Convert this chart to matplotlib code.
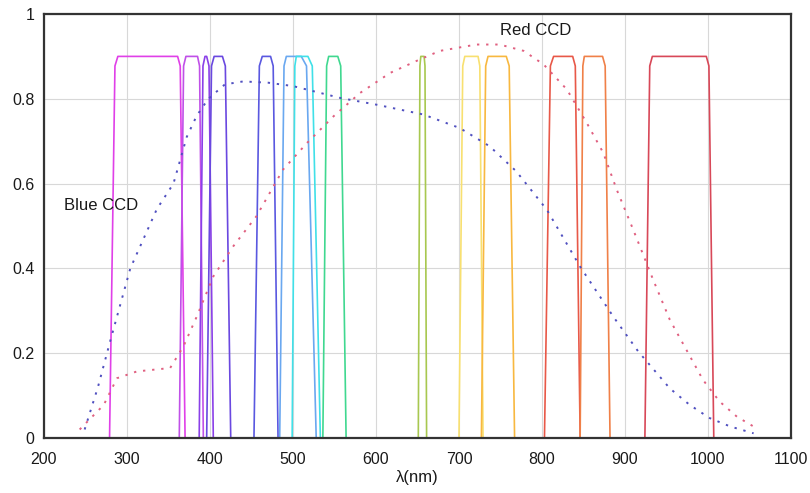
import matplotlib
matplotlib.use("Agg")
import matplotlib.pyplot as plt
import numpy as np

plt.rcParams['font.family'] = ['Liberation Sans', 'DejaVu Sans']

# Filter transmission curves: bottom-left, top-left, top-right, bottom-right (nm), peak transmission
filter_lo     = [279, 363, 387, 396, 453, 484, 499, 536, 651, 700, 727, 803, 846, 924]
filter_top_lo = [289, 371, 394, 405, 463, 492, 504, 543, 654, 707, 735, 814, 851, 933]
filter_top_hi = [361, 385, 396, 415, 473, 510, 518, 554, 658, 723, 757, 837, 873, 998]
filter_hi     = [370, 392, 404, 425, 482, 528, 533, 564, 661, 729, 767, 846, 882, 1007]
filter_peak   = 0.9
filter_colors = ['#e040e8', '#c050e8', '#8a40e8', '#6a48e0', '#5a58e0', '#6aa8f0',
                 '#40e0e8', '#40d890', '#a8c850', '#f8e070', '#f8b840', '#e85848',
                 '#f08048', '#d84858']

# CCD quantum efficiency curves
blue_wl = [249, 265, 280, 304, 336, 356, 372, 384, 398, 418, 440, 470, 500, 557, 601, 657,
           701, 737, 769, 806, 846, 886, 916, 954, 978, 1002, 1027, 1055]
blue_qe = [0.02, 0.12, 0.23, 0.40, 0.54, 0.60, 0.71, 0.76, 0.80, 0.834, 0.841, 0.838, 0.83,
           0.802, 0.786, 0.763, 0.731, 0.688, 0.629, 0.538, 0.404, 0.286, 0.204, 0.117,
           0.078, 0.047, 0.027, 0.011]
red_wl = [243, 258, 272, 288, 312, 352, 368, 384, 404, 428, 456, 488, 517, 549, 581, 617,
          653, 677, 721, 749, 778, 802, 830, 854, 874, 890, 910, 934, 954, 974, 994,
          1014, 1035, 1055]
red_qe = [0.02, 0.05, 0.078, 0.141, 0.157, 0.165, 0.216, 0.286, 0.381, 0.452, 0.523, 0.633,
          0.696, 0.759, 0.814, 0.861, 0.893, 0.913, 0.928, 0.928, 0.913, 0.881, 0.822,
          0.743, 0.672, 0.586, 0.491, 0.373, 0.279, 0.208, 0.137, 0.086, 0.050, 0.027]

x_ticks = [200, 300, 400, 500, 600, 700, 800, 900, 1000, 1100]
y_ticks = [0, 0.2, 0.4, 0.6, 0.8, 1]
y_tick_labels = ['0', '0.2', '0.4', '0.6', '0.8', '1']

fig = plt.figure(figsize=(8.1, 4.93), dpi=100)
ax = fig.add_axes([0.0543, 0.1116, 0.9222, 0.86])

for lo, tlo, thi, hi, c in zip(filter_lo, filter_top_lo, filter_top_hi, filter_hi, filter_colors):
    # slightly rounded trapezoid
    xs = [lo, tlo - 0.35 * (tlo - lo), tlo, thi, thi + 0.35 * (hi - thi), hi]
    ys = [0, filter_peak * 0.975, filter_peak, filter_peak, filter_peak * 0.975, 0]
    ax.plot(xs, ys, color=c, lw=1.2, solid_joinstyle='round')

ax.plot(blue_wl, blue_qe, color='#5050c0', lw=1.4, linestyle=(0, (1.2, 3.5)))
ax.plot(red_wl, red_qe, color='#e06080', lw=1.4, linestyle=(0, (1.2, 3.5)))

ax.text(749, 0.962, 'Red CCD', fontsize=12, color='#1a1a1a', ha='left', va='center')
ax.text(224, 0.548, 'Blue CCD', fontsize=12, color='#1a1a1a', ha='left', va='center')

ax.set_xlim(200, 1100)
ax.set_ylim(0, 1)
ax.set_xticks(x_ticks)
ax.set_yticks(y_ticks)
ax.set_yticklabels(y_tick_labels)
ax.tick_params(length=0, labelsize=11.5, colors='#1a1a1a')
ax.tick_params(axis='x', pad=10)
ax.tick_params(axis='y', pad=7)
ax.grid(True, color='#d8d8d8', lw=0.8)
ax.set_axisbelow(True)
for s in ax.spines.values():
    s.set_color('#333333')
    s.set_linewidth(1.6)
ax.set_xlabel('λ(nm)', fontsize=12, color='#1a1a1a', labelpad=2)

fig.savefig('out.png', dpi=100)
